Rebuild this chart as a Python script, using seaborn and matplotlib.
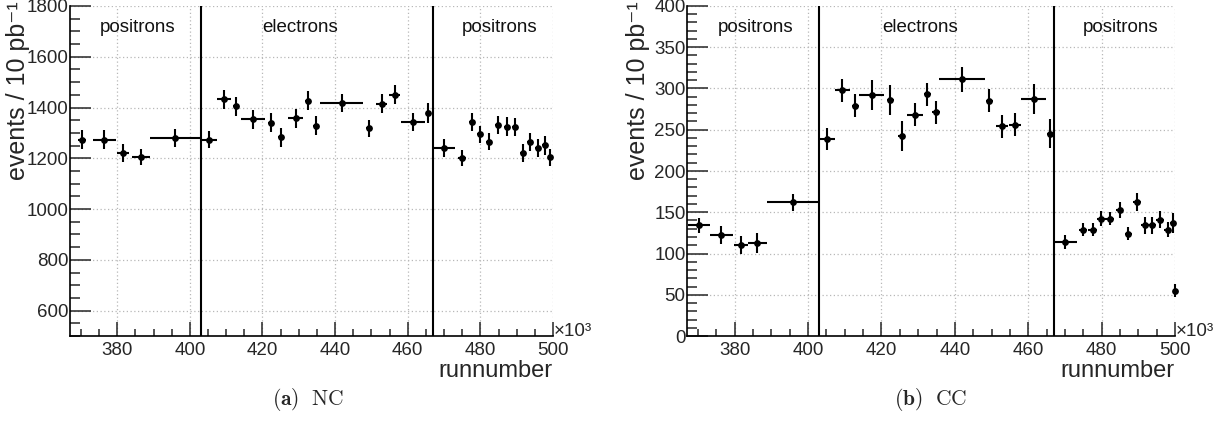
import numpy as np
import matplotlib
matplotlib.use("Agg")
import matplotlib.pyplot as plt
import seaborn as sns
from matplotlib.ticker import MultipleLocator, FixedLocator
import pandas as pd

# ---------------- data (run numbers in units of 10^3) ----------------
nc_run = [370.3, 376.5, 381.6, 386.6, 395.9, 405.4, 409.4, 412.7, 417.5, 422.4, 425.2,
          429.1, 432.6, 434.8, 441.8, 449.4, 452.8, 456.4, 461.4, 465.7, 470.0, 474.9,
          477.7, 480.0, 482.3, 484.8, 487.2, 489.6, 491.8, 493.7, 495.8, 497.9, 499.2]
nc_run_err = [1.2, 3.2, 1.6, 2.4, 7.0, 2.1, 1.8, 0.8, 3.3, 0.8, 0.8, 2.1, 0.8, 0.8, 5.9,
              0.8, 1.6, 1.5, 3.3, 0.8, 3.0, 1.1, 0.8, 0.8, 0.8, 0.8, 0.8, 0.8, 0.8, 0.8,
              0.8, 0.8, 0.5]
nc_events = [1274, 1274, 1221, 1204, 1279, 1274, 1432, 1405, 1353, 1341, 1282, 1357, 1427,
             1329, 1419, 1318, 1415, 1451, 1344, 1378, 1241, 1201, 1343, 1294, 1266, 1331,
             1325, 1323, 1221, 1265, 1242, 1251, 1204]
nc_events_err = [36, 36, 34, 32, 36, 34, 38, 38, 38, 36, 36, 36, 38, 36, 36, 34, 38, 38,
                 36, 38, 34, 32, 36, 34, 34, 36, 36, 36, 34, 36, 36, 36, 34]

cc_run = [370.2, 376.4, 381.8, 386.2, 395.9, 405.2, 409.3, 412.9, 417.4, 422.4, 425.5,
          429.1, 432.5, 434.9, 441.9, 449.4, 452.8, 456.3, 461.5, 465.8, 470.1, 474.9,
          477.6, 479.9, 482.3, 484.9, 487.3, 489.6, 491.8, 493.7, 495.9, 498.0, 499.4, 500.0]
cc_run_err = [3.0, 3.1, 1.9, 2.6, 7.1, 2.1, 2.1, 1.0, 3.4, 1.0, 1.0, 2.1, 1.0, 1.0, 6.2,
              1.0, 1.7, 1.6, 3.4, 0.8, 3.2, 1.2, 1.2, 1.2, 1.2, 1.0, 1.0, 1.0, 1.0, 1.0,
              1.0, 1.0, 0.8, 0.5]
cc_events = [134, 122, 110, 113, 162, 239, 298, 279, 292, 286, 242, 268, 293, 271, 311,
             285, 254, 256, 287, 245, 114, 129, 129, 142, 142, 153, 124, 162, 134, 134,
             141, 129, 137, 55]
cc_events_err = [9, 11, 11, 12, 10.6, 13, 14, 14, 18, 18, 18, 14, 14, 14, 15, 14, 14, 14,
                 18.5, 17.5, 9, 8, 8, 9, 8, 10, 8, 11, 10, 10, 10, 9, 12, 8]

period_boundaries = [403.0, 467.0]
period_labels = ["positrons", "electrons", "positrons"]
period_label_x = [385.6, 430.5, 485.3]

x_ticks = [380, 400, 420, 440, 460, 480, 500]
nc_y_ticks = [600, 800, 1000, 1200, 1400, 1600, 1800]
cc_y_ticks = [0, 50, 100, 150, 200, 250, 300, 350, 400]

# ---------------- styling ----------------
sns.set_style("white")
plt.rcParams['font.family'] = ['Liberation Sans', 'DejaVu Sans']

W, H = 1223, 423
fig = plt.figure(figsize=(W / 100, H / 100), dpi=100)

ax_nc = fig.add_axes([70 / W, 1 - 336 / H, 483 / W, 330 / H])
ax_cc = fig.add_axes([687 / W, 1 - 336 / H, 488 / W, 330 / H])


def draw_panel(ax, run, run_err, ev, ev_err, ylim, yticks, yminor):
    df = pd.DataFrame({"run": run, "events": ev})
    ax.errorbar(run, ev, xerr=run_err, yerr=ev_err, fmt='none', ecolor='black',
                elinewidth=1.5, capsize=0, zorder=3, clip_on=False)
    sns.scatterplot(data=df, x="run", y="events", ax=ax, color='black', s=24,
                    edgecolor='black', linewidth=0, zorder=4, clip_on=False, legend=False)
    for b in period_boundaries:
        ax.axvline(b, color='black', lw=1.5, zorder=2)
    for lx, lab in zip(period_label_x, period_labels):
        ax.text(lx, 0.935, lab, transform=ax.get_xaxis_transform(), ha='center',
                va='center', fontsize=13.5, color='#111111')
    ax.set_xlim(367, 500)
    ax.set_ylim(*ylim)
    ax.xaxis.set_major_locator(FixedLocator(x_ticks))
    ax.xaxis.set_minor_locator(MultipleLocator(5))
    ax.yaxis.set_major_locator(FixedLocator(yticks))
    ax.yaxis.set_minor_locator(MultipleLocator(yminor))
    ax.grid(True, which='major', color='#b8b8b8', linestyle=(0, (1, 2)), lw=0.9)
    ax.set_axisbelow(True)
    for s in ['top', 'right']:
        ax.spines[s].set_visible(False)
    for s in ['left', 'bottom']:
        ax.spines[s].set_color('black')
        ax.spines[s].set_linewidth(1.2)
    ax.tick_params(axis='x', which='major', direction='in', length=10, width=1.1,
                   labelsize=13.5, pad=4, bottom=True)
    ax.tick_params(axis='x', which='minor', direction='in', length=5, width=1.1, bottom=True)
    ax.tick_params(axis='y', which='major', direction='in', length=15, width=1.1,
                   labelsize=13.5, pad=1, left=True)
    ax.tick_params(axis='y', which='minor', direction='in', length=7, width=1.1, left=True)
    ax.set_xlabel("")
    ax.set_ylabel("")
    ax.text(1.0, -0.072, "runnumber", transform=ax.transAxes, ha='right', va='top',
            fontsize=17)
    ax.text(1.002, -0.012, "\u00d710\u00b3", transform=ax.transAxes, ha='left',
            va='bottom', fontsize=13.5)


draw_panel(ax_nc, nc_run, nc_run_err, nc_events, nc_events_err, (500, 1800),
           nc_y_ticks, 50)
draw_panel(ax_cc, cc_run, cc_run_err, cc_events, cc_events_err, (0, 400),
           cc_y_ticks, 10)

for xpx in (18, 638):
    fig.text(xpx / W, 1 - 1 / H, "events / 10 pb\u207b\u00b9", rotation=90, ha='center',
             va='top', fontsize=18)

for xpx, tag, name in ((272, "(a)", "NC"), (894, "(b)", "CC")):
    fig.text(xpx / W, 1 - 399 / H, r"$\mathbf{" + tag + r"}\ \ \mathrm{" + name + "}$",
             ha='left', va='center', fontsize=15.5, math_fontfamily='cm')

fig.savefig("out.png", dpi=100)
